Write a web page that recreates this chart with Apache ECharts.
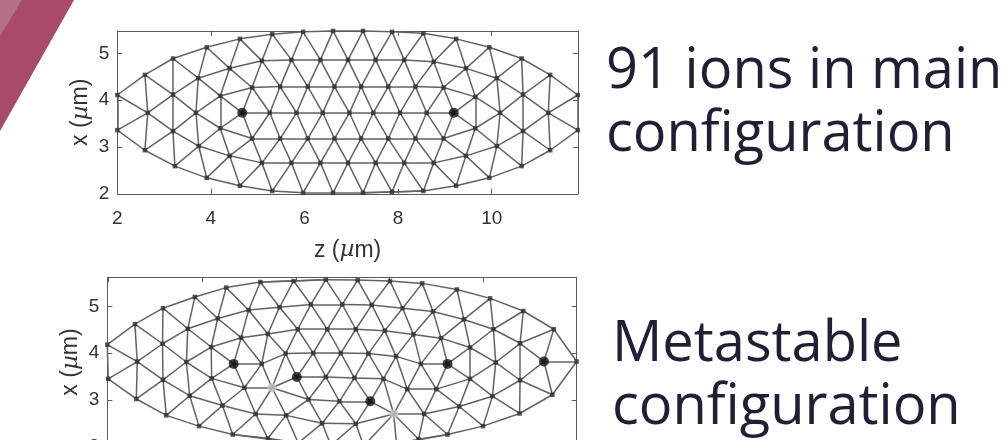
<!DOCTYPE html>
<html>
<head>
<meta charset="utf-8">
<script src="https://cdn.jsdelivr.net/npm/echarts@6/dist/echarts.min.js"></script>
<style>
  html, body { margin: 0; padding: 0; background: #ffffff; }
  #chart { width: 1006px; height: 440px; }
</style>
</head>
<body>
<div id="chart"></div>
<script>
// Ion positions [z, x] in µm, main (ground-state) configuration, 91 ions
const mainIons = [
  [2.00, 4.11], [2.00, 3.36],
  [2.59, 4.54], [2.65, 3.73], [2.59, 2.93],
  [3.19, 4.89], [3.19, 4.12], [3.19, 3.34], [3.23, 2.59],
  [3.91, 5.13], [3.73, 4.47], [3.68, 3.73], [3.74, 3.02], [3.91, 2.34],
  [4.62, 5.31], [4.40, 4.68], [4.20, 4.09], [4.67, 3.73], [4.20, 3.40], [4.40, 2.81], [4.62, 2.17],
  [5.31, 5.41], [5.09, 4.84], [4.88, 4.27], [5.26, 3.73], [4.88, 3.18], [5.09, 2.66], [5.31, 2.06],
  [5.97, 5.46], [5.72, 4.86], [5.48, 4.29], [5.83, 3.73], [5.48, 3.18], [5.72, 2.66], [5.97, 2.02],
  [6.61, 5.48], [6.34, 4.86], [6.07, 4.29], [6.39, 3.73], [6.07, 3.18], [6.34, 2.66], [6.61, 2.02],
  [6.93, 4.86], [6.64, 4.29], [6.96, 3.73], [6.64, 3.18], [6.93, 2.66],
  [7.25, 5.48], [7.25, 2.02], [7.21, 4.29], [7.21, 3.18], [7.52, 4.86], [7.47, 3.73], [7.52, 2.66],
  [7.87, 5.46], [7.87, 2.04], [7.79, 4.29], [7.79, 3.18], [8.13, 4.86], [8.04, 3.73], [8.13, 2.66],
  [8.54, 5.43], [8.54, 2.06], [8.37, 4.29], [8.37, 3.18], [8.76, 4.82], [8.61, 3.73], [8.76, 2.66],
  [9.24, 5.31], [8.97, 4.27], [9.19, 3.73], [8.97, 3.18], [9.24, 2.17],
  [9.45, 4.68], [9.45, 2.81], [9.65, 4.07], [9.65, 3.40],
  [9.95, 5.13], [9.95, 2.34], [10.11, 4.47], [10.18, 3.73], [10.11, 3.02],
  [10.64, 4.89], [10.67, 4.12], [10.67, 3.34], [10.64, 2.59],
  [11.25, 4.54], [11.21, 3.73], [11.25, 2.93],
  [11.84, 4.11], [11.84, 3.36]
];
// highlighted ions (indices into mainIons)
const mainMarked = [17, 70];

// Ion positions [z, x] in µm, metastable configuration
const metaIons = [
  [1.97, 4.18], [1.99, 3.45],
  [2.56, 4.62], [2.61, 3.82], [2.59, 3.02],
  [3.16, 4.96], [3.15, 4.20], [3.16, 3.43], [3.23, 2.67],
  [3.84, 5.20], [3.69, 4.52], [3.66, 3.81], [3.73, 3.09], [3.93, 2.44],
  [4.51, 5.40], [4.33, 4.74], [4.19, 4.13], [4.67, 3.77], [4.20, 3.46], [4.43, 2.88], [4.65, 2.26],
  [5.24, 5.52], [4.99, 4.92], [4.83, 4.33], [5.27, 3.77], [4.90, 3.26], [5.14, 2.70], [5.49, 3.26],
  [5.95, 5.54], [5.65, 4.98], [5.40, 4.41], [5.78, 3.99], [6.02, 3.49], [5.79, 2.67], [5.40, 2.18],
  [6.32, 5.04], [6.04, 4.51], [6.37, 4.00], [6.64, 3.49], [6.27, 3.01], [6.56, 2.50],
  [6.99, 5.04], [6.67, 4.51], [6.96, 4.00], [6.93, 2.97], [6.64, 5.57],
  [7.32, 5.56], [8.01, 5.54], [8.70, 5.49], [9.44, 5.36], [10.15, 5.17], [10.86, 4.90],
  [11.51, 4.51], [12.00, 3.82], [11.48, 3.11], [10.78, 2.71], [10.00, 2.44], [9.24, 2.26],
  [7.62, 5.03], [8.28, 4.96], [8.93, 4.89], [9.59, 4.72], [10.22, 4.51], [10.79, 4.21],
  [11.30, 3.82], [10.79, 3.42], [10.20, 3.08], [9.49, 2.86], [8.74, 2.70], [8.09, 2.70], [7.28, 2.49],
  [7.28, 4.51], [7.90, 4.48], [8.51, 4.40], [9.10, 4.32], [9.72, 4.12], [10.27, 3.80],
  [9.72, 3.45], [9.00, 3.23], [8.38, 3.23], [7.87, 3.45], [7.59, 2.97],
  [7.55, 3.99], [8.14, 3.93], [8.67, 3.77], [9.24, 3.77], [7.25, 3.47],
  [6.05, 2.08], [6.75, 2.03], [7.45, 2.02], [8.15, 2.06], [8.62, 2.16]
];
// highlighted ions and faded ions (indices into metaIons)
const metaMarked = [17, 32, 64, 81, 85];
const metaFaded = [27, 69];

// axis tick values
const zTicks = [2, 4, 6, 8, 10];
const xTicks = [2, 3, 4, 5];

// ---------- Delaunay triangulation (Bowyer–Watson) for the lattice bonds ----------
function inCircle(a, b, c, p) {
  const ax = a[0] - p[0], ay = a[1] - p[1];
  const bx = b[0] - p[0], by = b[1] - p[1];
  const cx = c[0] - p[0], cy = c[1] - p[1];
  const det = (ax * ax + ay * ay) * (bx * cy - cx * by)
            - (bx * bx + by * by) * (ax * cy - cx * ay)
            + (cx * cx + cy * cy) * (ax * by - bx * ay);
  const orient = (b[0] - a[0]) * (c[1] - a[1]) - (b[1] - a[1]) * (c[0] - a[0]);
  return orient > 0 ? det > 0 : det < 0;
}
function delaunayEdges(pts) {
  const n = pts.length;
  let minX = Infinity, minY = Infinity, maxX = -Infinity, maxY = -Infinity;
  pts.forEach(([x, y]) => {
    minX = Math.min(minX, x); maxX = Math.max(maxX, x);
    minY = Math.min(minY, y); maxY = Math.max(maxY, y);
  });
  const mx = (minX + maxX) / 2, my = (minY + maxY) / 2;
  const d = Math.max(maxX - minX, maxY - minY) * 200;
  const P = pts.concat([[mx - d, my - d], [mx, my + d], [mx + d, my - d]]);
  let tris = [[n, n + 1, n + 2]];
  for (let i = 0; i < n; i++) {
    const p = P[i];
    const keep = [], count = new Map();
    for (const t of tris) {
      if (inCircle(P[t[0]], P[t[1]], P[t[2]], p)) {
        [[t[0], t[1]], [t[1], t[2]], [t[2], t[0]]].forEach(([a, b]) => {
          const k = a < b ? a + ',' + b : b + ',' + a;
          count.set(k, (count.get(k) || 0) + 1);
        });
      } else {
        keep.push(t);
      }
    }
    tris = keep;
    count.forEach((c, k) => {
      if (c === 1) {
        const [a, b] = k.split(',').map(Number);
        tris.push([a, b, i]);
      }
    });
  }
  const edges = new Set();
  tris.forEach(t => {
    if (t[0] >= n || t[1] >= n || t[2] >= n) return;
    [[t[0], t[1]], [t[1], t[2]], [t[2], t[0]]].forEach(([a, b]) => {
      edges.add(a < b ? a + ',' + b : b + ',' + a);
    });
  });
  return Array.from(edges).map(k => k.split(',').map(Number));
}

// ---------- styling ----------
const SCALE = 46.8;            // px per µm (equal aspect)
const axisFont = 'Liberation Sans, Arial, Helvetica, sans-serif';
const axisColor = '#333333';
const frameColor = '#5a5a5a';
const bondColor = '#626262';

function extent(pts, k) {
  return [Math.min(...pts.map(p => p[k])), Math.max(...pts.map(p => p[k]))];
}

function panel(idx, pts, left, topPx, yMin, yMax, showXLabels) {
  const [zMin, zMax] = extent(pts, 0);
  const grid = {
    left: left, top: topPx,
    width: (zMax - zMin) * SCALE,
    height: (yMax - yMin) * SCALE,
    containLabel: false,
    outerBoundsMode: 'none'
  };
  const name = (s) => s + ' ({mu|µ}m)';
  const nameStyle = {
    fontFamily: axisFont, fontSize: 23, color: axisColor,
    rich: { mu: { fontFamily: 'DejaVu Serif, serif', fontStyle: 'italic', fontSize: 23, color: axisColor } }
  };
  const common = {
    type: 'value', gridIndex: idx,
    splitLine: { show: false },
    axisLine: { show: true, onZero: false, lineStyle: { color: frameColor, width: 1 } }
  };
  const xAxes = [
    Object.assign({}, common, {
      position: 'bottom', min: zMin, max: zMax,
      axisTick: { show: true, inside: true, length: 5, customValues: zTicks, lineStyle: { color: frameColor } },
      axisLabel: {
        show: showXLabels, customValues: zTicks, margin: 16,
        fontFamily: axisFont, fontSize: 19, color: axisColor
      },
      name: showXLabels ? name('z') : '', nameLocation: 'middle', nameGap: 45, nameTextStyle: nameStyle
    }),
    Object.assign({}, common, {
      position: 'top', min: zMin, max: zMax,
      axisTick: { show: true, inside: true, length: 5, customValues: zTicks, lineStyle: { color: frameColor } },
      axisLabel: { show: false }
    })
  ];
  const yAxes = [
    Object.assign({}, common, {
      position: 'left', min: yMin, max: yMax,
      axisTick: { show: true, inside: true, length: 5, customValues: xTicks, lineStyle: { color: frameColor } },
      axisLabel: {
        customValues: xTicks, margin: 8,
        fontFamily: axisFont, fontSize: 19, color: axisColor
      },
      name: name('x'), nameLocation: 'middle', nameGap: 25, nameRotate: 90, nameTextStyle: nameStyle
    }),
    Object.assign({}, common, {
      position: 'right', min: yMin, max: yMax,
      axisTick: { show: true, inside: true, length: 5, customValues: xTicks, lineStyle: { color: frameColor } },
      axisLabel: { show: false }
    })
  ];
  return { grid, xAxes, yAxes };
}

function panelSeries(axisIdx, pts, marked, faded) {
  const edges = delaunayEdges(pts);
  const fadedSet = new Set(faded);
  const plain = pts.filter((p, i) => !fadedSet.has(i));
  return [
    {
      type: 'lines', coordinateSystem: 'cartesian2d',
      xAxisIndex: axisIdx * 2, yAxisIndex: axisIdx * 2,
      polyline: false, silent: true, clip: false, z: 2,
      lineStyle: { color: bondColor, width: 1.5, opacity: 1 },
      data: edges.map(([a, b]) => ({ coords: [pts[a], pts[b]] }))
    },
    {
      type: 'scatter', xAxisIndex: axisIdx * 2, yAxisIndex: axisIdx * 2,
      symbol: 'rect', symbolSize: 4.5, silent: true, clip: false, z: 3,
      itemStyle: { color: '#303030' },
      data: plain
    },
    {
      type: 'scatter', xAxisIndex: axisIdx * 2, yAxisIndex: axisIdx * 2,
      symbol: 'circle', symbolSize: 9, silent: true, clip: false, z: 4,
      itemStyle: { color: '#c4c4c4' },
      data: faded.map(i => pts[i])
    },
    {
      type: 'scatter', xAxisIndex: axisIdx * 2, yAxisIndex: axisIdx * 2,
      symbol: 'circle', symbolSize: 10, silent: true, clip: false, z: 5,
      itemStyle: { color: '#111111' },
      data: marked.map(i => pts[i])
    }
  ];
}

const panelMain = panel(0, mainIons, 117.3, 30.9, 2.0, 5.48, true);
const panelMeta = panel(1, metaIons, 107.3, 277.3, 2.0, 5.62, false);

const chart = echarts.init(document.getElementById('chart'), null, { renderer: 'canvas' });
chart.setOption({
  backgroundColor: '#ffffff',
  animation: false,
  grid: [panelMain.grid, panelMeta.grid],
  xAxis: panelMain.xAxes.concat(panelMeta.xAxes),
  yAxis: panelMain.yAxes.concat(panelMeta.yAxes),
  series: panelSeries(0, mainIons, mainMarked, [])
    .concat(panelSeries(1, metaIons, metaMarked, metaFaded)),
  graphic: [
    { type: 'polygon', silent: true, z: 0, shape: { points: [[0, 0], [74, 0], [0, 131]] }, style: { fill: '#a84b6b' } },
    { type: 'polygon', silent: true, z: 1, shape: { points: [[0, 0], [22, 0], [0, 36]] }, style: { fill: '#b47288' } },
    { type: 'text', silent: true, left: 606, top: 41,
      style: { text: '91 ions in main\nconfiguration', fontFamily: 'Open Sans', fontSize: 56, lineHeight: 63, fill: '#221e33' } },
    { type: 'text', silent: true, left: 612, top: 314,
      style: { text: 'Metastable\nconfiguration', fontFamily: 'Open Sans', fontSize: 56, lineHeight: 63, fill: '#221e33' } }
  ]
});
</script>
</body>
</html>
